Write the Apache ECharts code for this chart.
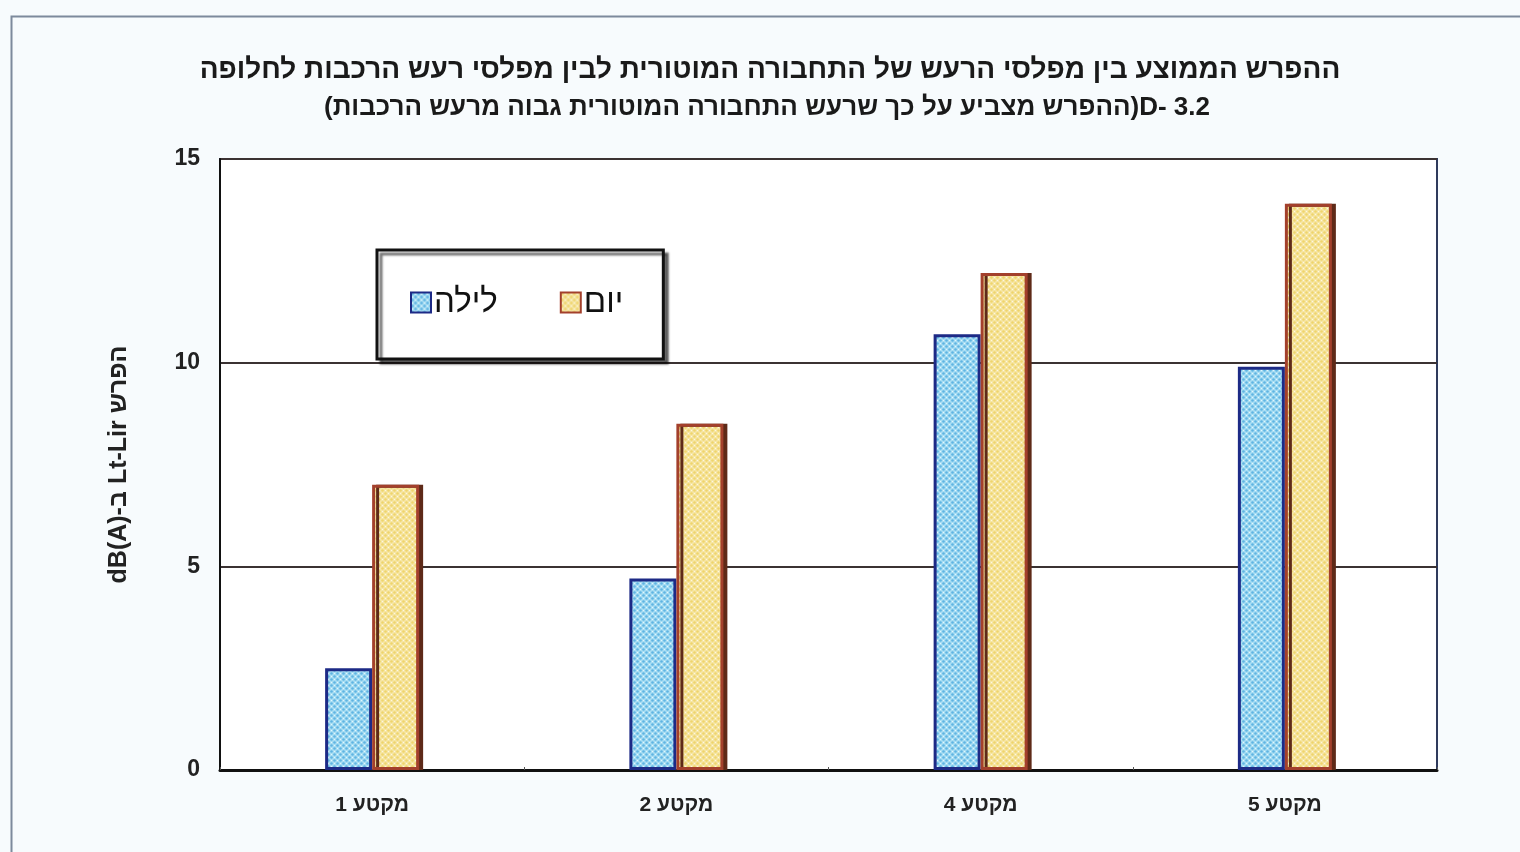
<!DOCTYPE html>
<html>
<head>
<meta charset="utf-8">
<script src="https://cdn.jsdelivr.net/npm/echarts@6/dist/echarts.min.js"></script>
<style>
  html, body { margin: 0; padding: 0; background: #ffffff; }
  #chart { width: 1520px; height: 852px; }
</style>
</head>
<body>
<div id="chart"></div>
<script>
// Road sections on the category axis
const categories = ['מקטע 1', 'מקטע 2', 'מקטע 4', 'מקטע 5'];
// Night-time difference, dB(A)
const nightValues = [2.5, 4.7, 10.7, 9.9];
// Day-time difference, dB(A)
const dayValues = [7.0, 8.5, 12.2, 13.9];
const seriesNames = ['לילה', 'יום'];
const yTicks = { min: 0, max: 15, interval: 5 };

const titleLine1 = 'ההפרש הממוצע בין מפלסי הרעש של התחבורה המוטורית לבין מפלסי רעש הרכבות לחלופה';
const titleLine2 = '(ההפרש מצביע על כך שרעש התחבורה המוטורית גבוה מרעש הרכבות)D- 3.2';
const yAxisName = 'dB(A)-ב Lt-Lir הפרש';

const FONT = '"Liberation Sans", Arial, "DejaVu Sans", sans-serif';

// Dotted fill textures for the bars
function dotPattern(bg, dot, light) {
  const c = document.createElement('canvas');
  c.width = 6; c.height = 6;
  const g = c.getContext('2d');
  g.fillStyle = bg; g.fillRect(0, 0, 6, 6);
  g.fillStyle = dot;
  g.beginPath(); g.arc(1.5, 1.5, 1.3, 0, Math.PI * 2); g.fill();
  g.beginPath(); g.arc(4.5, 4.5, 1.3, 0, Math.PI * 2); g.fill();
  g.fillStyle = light;
  g.fillRect(4, 1, 1, 1); g.fillRect(1, 4, 1, 1);
  return c;
}
const nightFill = { image: dotPattern('#a9def3', '#5fb4e2', '#e4f6fc'), repeat: 'repeat' };
const dayFill = { image: dotPattern('#f6e6a6', '#efd46c', '#fdf7e2'), repeat: 'repeat' };

const chart = echarts.init(document.getElementById('chart'), null, { renderer: 'canvas' });
chart.setOption({
  backgroundColor: '#f7fbfd',
  animation: false,
  graphic: [
    { type: 'rect', left: 9, top: 14, shape: { width: 1540, height: 860 },
      style: { fill: 'none', stroke: '#7d8a9c', lineWidth: 2 }, z: 0 }
  ],
  title: {
    text: '{a|' + titleLine1 + '}\n{b|' + titleLine2 + '}',
    left: 'center',
    top: 46,
    textStyle: {
      rich: {
        a: { fontFamily: FONT, fontSize: 28, fontWeight: 'bold', color: '#1a1a1a', lineHeight: 38, padding: [0, 0, 0, 20] },
        b: { fontFamily: FONT, fontSize: 26, fontWeight: 'bold', color: '#1a1a1a', lineHeight: 38, padding: [0, 0, 0, 14] }
      }
    }
  },
  legend: {
    data: seriesNames,
    left: 377,
    top: 250,
    orient: 'horizontal',
    icon: 'rect',
    itemWidth: 20,
    itemHeight: 20,
    itemGap: 62,
    padding: [36, 40, 40, 33],
    backgroundColor: '#ffffff',
    borderColor: '#111111',
    borderWidth: 3,
    shadowColor: 'rgba(0,0,0,0.55)',
    shadowOffsetX: 4,
    shadowOffsetY: 4,
    shadowBlur: 2,
    textStyle: { fontFamily: FONT, fontSize: 33, color: '#111', padding: [0, 0, 0, -2] }
  },
  grid: {
    left: 220, right: 83, top: 159, bottom: 82,
    show: true,
    backgroundColor: '#ffffff',
    borderColor: '#2e3a5c',
    borderWidth: 2
  },
  xAxis: {
    type: 'category',
    data: categories,
    axisLine: { lineStyle: { color: '#111', width: 3 } },
    axisTick: { show: true, length: 3, inside: true, lineStyle: { color: '#555' } },
    axisLabel: { fontFamily: FONT, fontSize: 21, fontWeight: 'bold', color: '#222', margin: 25 }
  },
  yAxis: {
    type: 'value',
    min: yTicks.min, max: yTicks.max, interval: yTicks.interval,
    name: yAxisName,
    nameLocation: 'middle',
    nameRotate: 90,
    nameGap: 88,
    nameTextStyle: { fontFamily: FONT, fontSize: 25, fontWeight: 'bold', color: '#222' },
    axisLine: { show: true, lineStyle: { color: '#111', width: 2 } },
    axisTick: { show: false },
    axisLabel: { fontFamily: FONT, fontSize: 23, fontWeight: 'bold', color: '#222', margin: 20 },
    splitLine: { lineStyle: { color: '#3b3232', width: 2 } }
  },
  series: [
    {
      name: seriesNames[0], type: 'bar', data: nightValues,
      barWidth: 47, barGap: '0%',
      itemStyle: { color: nightFill, borderColor: '#1d2a86', borderWidth: 3 }
    },
    {
      name: seriesNames[1], type: 'bar', data: dayValues,
      barWidth: 47,
      itemStyle: {
        color: dayFill, borderColor: '#a3402c', borderWidth: 3,
        shadowColor: '#5e2a18', shadowOffsetX: 4, shadowOffsetY: 0, shadowBlur: 0
      }
    }
  ]
});
</script>
</body>
</html>
